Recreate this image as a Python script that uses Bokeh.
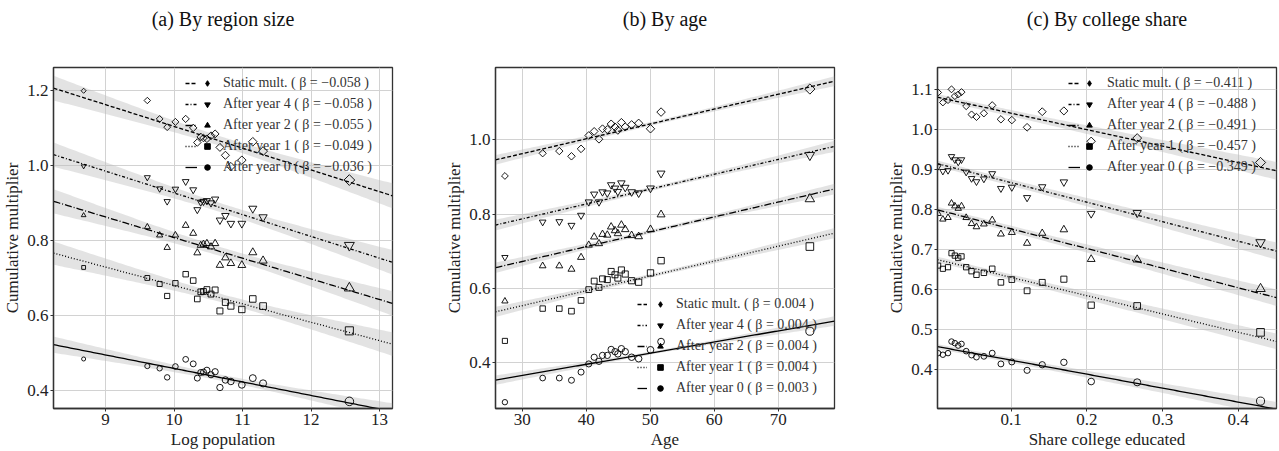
import numpy as np
from bokeh.plotting import figure
from bokeh.models import Legend, LegendItem, FixedTicker, Range1d, PrintfTickFormatter, Title
from bokeh.layouts import row
from bokeh.embed import file_html
from bokeh.resources import INLINE

# ---------------- data ----------------
series_names = ["Static mult.", "After year 4", "After year 2", "After year 1", "After year 0"]

# (a) By region size
log_pop = [8.68, 9.61, 9.79, 9.90, 10.02, 10.17, 10.28, 10.34, 10.39, 10.43,
           10.48, 10.54, 10.60, 10.67, 10.75, 10.83, 10.99, 11.15, 11.30, 12.56]
a_static = [1.198, 1.172, 1.123, 1.101, 1.115, 1.123, 1.099, 1.060, 1.075, 1.072,
            1.070, 1.078, 1.083, 1.047, 1.026, 0.996, 1.013, 1.062, 1.037, 0.960]
a_year4 = [0.997, 0.967, 0.937, 0.903, 0.936, 0.956, 0.934, 0.881, 0.901, 0.903,
           0.905, 0.899, 0.909, 0.853, 0.865, 0.844, 0.844, 0.884, 0.861, 0.786]
a_year2 = [0.866, 0.835, 0.813, 0.780, 0.813, 0.839, 0.818, 0.766, 0.786, 0.789,
           0.791, 0.782, 0.791, 0.733, 0.753, 0.738, 0.733, 0.767, 0.745, 0.672]
a_year1 = [0.727, 0.699, 0.683, 0.651, 0.685, 0.709, 0.692, 0.643, 0.662, 0.663,
           0.668, 0.656, 0.667, 0.611, 0.634, 0.624, 0.615, 0.643, 0.624, 0.558]
a_year0 = [0.483, 0.464, 0.458, 0.434, 0.463, 0.482, 0.470, 0.432, 0.447, 0.448,
           0.453, 0.441, 0.449, 0.407, 0.427, 0.423, 0.414, 0.432, 0.418, 0.370]
a_betas = [-0.058, -0.058, -0.055, -0.049, -0.036]
# confidence band (half-width at band centre, slope uncertainty)
a_ci_center = 10.7
a_ci_mid = [0.013, 0.012, 0.012, 0.011, 0.008]
a_ci_slope = [0.0123, 0.0122, 0.0122, 0.0118, 0.0082]

# (b) By age
age = [27.3, 33.2, 35.8, 37.7, 39.2, 40.4, 41.25, 42.0, 42.55, 43.3,
       43.9, 44.5, 44.95, 45.5, 46.1, 47.1, 48.2, 50.05, 51.7, 74.95]
b_static = [0.903, 0.964, 0.970, 0.956, 0.976, 1.012, 1.023, 1.002, 1.030, 1.028,
            1.043, 1.035, 1.026, 1.047, 1.035, 1.041, 1.045, 1.030, 1.075, 1.137]
b_year4 = [0.684, 0.779, 0.780, 0.770, 0.797, 0.833, 0.854, 0.833, 0.860, 0.857,
           0.879, 0.870, 0.861, 0.884, 0.872, 0.860, 0.857, 0.870, 0.910, 0.959]
b_year2 = [0.566, 0.661, 0.661, 0.652, 0.684, 0.717, 0.739, 0.721, 0.746, 0.744,
           0.766, 0.756, 0.748, 0.771, 0.759, 0.743, 0.740, 0.759, 0.799, 0.841]
b_year1 = [0.459, 0.546, 0.546, 0.539, 0.568, 0.597, 0.620, 0.603, 0.626, 0.624,
           0.646, 0.637, 0.628, 0.650, 0.639, 0.621, 0.617, 0.642, 0.675, 0.713]
b_year0 = [0.294, 0.359, 0.359, 0.353, 0.375, 0.397, 0.415, 0.404, 0.420, 0.420,
           0.436, 0.430, 0.424, 0.438, 0.430, 0.415, 0.411, 0.435, 0.457, 0.485]
b_betas = [0.004, 0.004, 0.004, 0.004, 0.003]
b_ci_center = 52.0
b_ci_mid = [0.005, 0.005, 0.005, 0.005, 0.004]
b_ci_slope = [0.00046, 0.00052, 0.00050, 0.00048, 0.00046]

# (c) By college share
college = [0.0035, 0.0097, 0.0165, 0.0211, 0.0255, 0.0300, 0.0343, 0.0405, 0.0476, 0.0541,
           0.0639, 0.0749, 0.0864, 0.1008, 0.1210, 0.1410, 0.1696, 0.2057, 0.2665, 0.4295]
c_static = [1.092, 1.067, 1.073, 1.100, 1.083, 1.087, 1.093, 1.058, 1.037, 1.031,
            1.040, 1.060, 1.025, 1.023, 1.005, 1.044, 1.046, 0.970, 0.978, 0.917]
c_year4 = [0.907, 0.895, 0.897, 0.932, 0.924, 0.918, 0.924, 0.893, 0.877, 0.869,
           0.876, 0.889, 0.852, 0.855, 0.829, 0.856, 0.868, 0.789, 0.791, 0.717]
c_year2 = [0.789, 0.775, 0.779, 0.815, 0.808, 0.802, 0.808, 0.779, 0.764, 0.756,
           0.763, 0.773, 0.738, 0.742, 0.715, 0.740, 0.749, 0.675, 0.674, 0.601]
c_year1 = [0.659, 0.651, 0.655, 0.690, 0.684, 0.678, 0.682, 0.655, 0.645, 0.636,
           0.641, 0.651, 0.617, 0.624, 0.596, 0.617, 0.625, 0.560, 0.558, 0.492]
c_year0 = [0.440, 0.436, 0.440, 0.469, 0.465, 0.459, 0.463, 0.445, 0.435, 0.430,
           0.432, 0.440, 0.413, 0.418, 0.397, 0.411, 0.417, 0.369, 0.367, 0.320]
c_betas = [-0.411, -0.488, -0.491, -0.457, -0.349]
c_ci_center = 0.05
c_ci_mid = [0.0075, 0.0075, 0.0075, 0.0070, 0.0060]
c_ci_slope = [0.052, 0.050, 0.048, 0.046, 0.042]

# ---------------- styles ----------------
FONT = "Liberation Serif"
dashes = ["4 2", "3 2 1 2", "7 2 1 2", "1 2", "solid"]
data_markers = ["square", "inverted_triangle", "triangle", "square", "circle"]
data_angles = [np.pi / 4, 0, 0, 0, 0]
size_factor = [0.8, 1.05, 1.05, 0.85, 0.9]
legend_markers = ["diamond", "inverted_triangle", "triangle", "square", "circle"]
spacer_sizes = ["17px", "9px"]


def fmt_beta(b):
    s = f"{abs(b):.3f}"
    return ("\u2212" + s) if b < 0 else s


def style_axis(ax):
    ax.major_label_text_font = FONT
    ax.major_label_text_font_size = "17px"
    ax.major_label_text_color = "#222222"
    ax.axis_label_text_font = FONT
    ax.axis_label_text_font_size = "17px"
    ax.axis_label_text_font_style = "normal"
    ax.axis_label_text_color = "#222222"
    ax.axis_line_color = "#333333"
    ax.axis_line_width = 1.3
    ax.major_tick_line_color = "#333333"
    ax.major_tick_in = 0
    ax.major_tick_out = 3
    ax.minor_tick_line_color = None
    ax.major_label_standoff = 2
    ax.axis_label_standoff = 2


def make_panel(title, x, ys, betas, ci_c, ci_mid, ci_slope, xlabel, xr, yr,
               xticks, yticks, xfmt, width, bl, br, size_rng, leg_pos, seg_w):
    p = figure(width=width, height=451, output_backend="svg", toolbar_location=None,
               x_range=Range1d(*xr), y_range=Range1d(*yr),
               min_border_left=bl, min_border_right=br, min_border_top=65,
               min_border_bottom=42, title=None)
    # spacers (inner) then the real title (outer)
    for fs in spacer_sizes:
        p.add_layout(Title(text=" ", text_font_size=fs, standoff=0,
                           text_font=FONT), "above")
    p.add_layout(Title(text=title, text_font=FONT, text_font_size="20px",
                       text_font_style="normal", text_color="#111111",
                       align="center"), "above")

    p.outline_line_color = "#333333"
    p.outline_line_width = 1.3
    p.background_fill_color = "white"
    p.border_fill_color = "white"

    xax = p.xaxis[0]
    yax = p.yaxis[0]
    xax.ticker = FixedTicker(ticks=xticks)
    yax.ticker = FixedTicker(ticks=yticks)
    xax.formatter = PrintfTickFormatter(format=xfmt)
    yax.formatter = PrintfTickFormatter(format="%.1f")
    style_axis(xax)
    style_axis(yax)
    xax.axis_label = xlabel
    yax.axis_label = "Cumulative multiplier"
    p.grid.grid_line_color = "#d2d2d2"
    p.grid.grid_line_width = 1

    xs = np.linspace(xr[0], xr[1], 120)
    xa = np.asarray(x, float)
    norm = (xa - xa.min()) / (xa.max() - xa.min())
    base_sizes = size_rng[0] + (size_rng[1] - size_rng[0]) * norm

    line_items, marker_items = [], []
    for i, yv in enumerate(ys):
        ya = np.asarray(yv, float)
        yhat = ya.mean() + betas[i] * (xs - xa.mean())
        half = np.sqrt(ci_mid[i] ** 2 + (ci_slope[i] * (xs - ci_c)) ** 2)
        p.varea(x=xs, y1=yhat - half, y2=yhat + half, fill_color="#bdbdbd",
                fill_alpha=0.42)
        lr = p.line(xs, yhat, line_color="black", line_width=1.3,
                    line_dash=dashes[i])
        p.scatter(x, yv, marker=data_markers[i], angle=data_angles[i],
                  size=base_sizes * size_factor[i], line_color="black",
                  line_width=0.9, fill_alpha=0)
        mr = p.scatter([np.nan], [np.nan], marker=legend_markers[i],
                       fill_color="black", line_color="black")
        line_items.append(LegendItem(label=" ", renderers=[lr]))
        marker_items.append(LegendItem(
            label=f"{series_names[i]} ( \u03b2 = {fmt_beta(betas[i])} )",
            renderers=[mr]))

    (lx, mx, ly, stand) = leg_pos
    common = dict(orientation="vertical", background_fill_alpha=0,
                  border_line_alpha=0, label_text_font=FONT,
                  label_text_font_size="14px", label_text_color="#333333",
                  glyph_height=16, label_height=16, spacing=5, padding=4,
                  margin=0)
    leg1 = Legend(items=line_items, location=(lx, ly), glyph_width=seg_w,
                  label_standoff=0, label_width=1, **common)
    leg2 = Legend(items=marker_items, location=(mx, ly), glyph_width=14,
                  label_standoff=stand, **common)
    p.add_layout(leg1, "center")
    p.add_layout(leg2, "center")
    return p


pa = make_panel("(a) By region size", log_pop,
                [a_static, a_year4, a_year2, a_year1, a_year0], a_betas,
                a_ci_center, a_ci_mid, a_ci_slope,
                "Log population", (8.24, 13.19), (0.351, 1.26),
                [9, 10, 11, 12, 13], [0.4, 0.6, 0.8, 1.0, 1.2], "%d",
                420, 53, 28, (4.5, 9.5), (128, 143, 229, 9), 12)
pb = make_panel("(b) By age", age,
                [b_static, b_year4, b_year2, b_year1, b_year0], b_betas,
                b_ci_center, b_ci_mid, b_ci_slope,
                "Age", (25.83, 78.8), (0.277, 1.195),
                [30, 40, 50, 60, 70], [0.4, 0.6, 0.8, 1.0], "%d",
                430, 75, 16, (6.0, 9.0), (138, 154, 8, 9), 10)
pc = make_panel("(c) By college share", college,
                [c_static, c_year4, c_year2, c_year1, c_year0], c_betas,
                c_ci_center, c_ci_mid, c_ci_slope,
                "Share college educated", (0.0026, 0.4506), (0.3015, 1.1546),
                [0.1, 0.2, 0.3, 0.4], [0.4, 0.5, 0.6, 0.7, 0.8, 0.9, 1.0, 1.1], "%.1f",
                429, 87, 3, (6.0, 9.0), (127, 141, 229, 11), 12)

layout = row(pa, pb, pc)
open("out.html", "w").write(file_html(layout, INLINE))
